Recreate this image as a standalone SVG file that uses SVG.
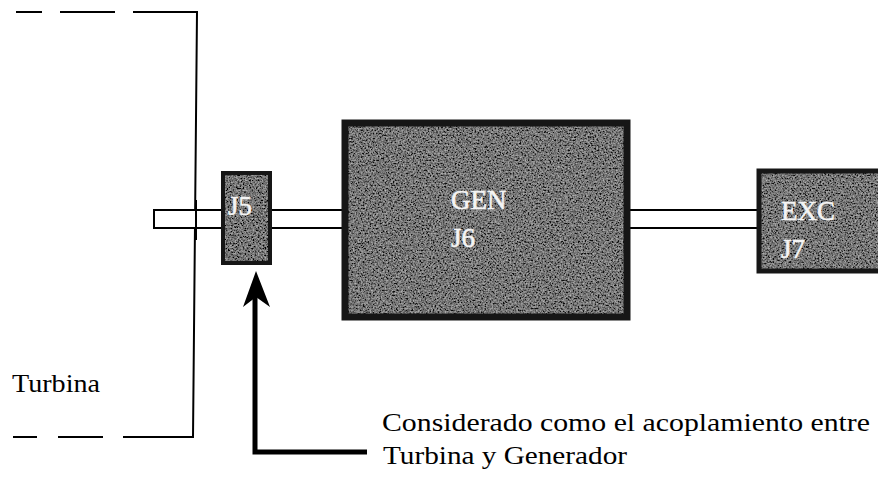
<svg xmlns="http://www.w3.org/2000/svg" width="878" height="478" viewBox="0 0 878 478">
<style>
.ln{stroke:#000;stroke-width:2;fill:none}
.shaft{fill:#fff;stroke:#000;stroke-width:2}
.fillbox{fill:#1a1a1a}
.edge{fill:none;stroke:#161616;stroke-width:7}
.lbl{font-family:"Liberation Serif","Times New Roman",serif;font-size:27px;fill:#f4f4f4;stroke:#f4f4f4;stroke-width:0.6}
.txt{font-family:"Liberation Serif","Times New Roman",serif;font-size:26px;fill:#000}
</style>
<defs>
<filter id="noise" x="0" y="0" width="1" height="1">
<feTurbulence type="fractalNoise" baseFrequency="0.6" numOctaves="3" seed="7" result="t"/>
<feColorMatrix in="t" type="matrix" values="1.6 0 0 0 -0.45  1.6 0 0 0 -0.45  1.6 0 0 0 -0.45  0 0 0 0 0.5" result="g"/>
<feComposite in="g" in2="SourceGraphic" operator="in" result="gi"/>
<feMerge><feMergeNode in="SourceGraphic"/><feMergeNode in="gi"/></feMerge>
</filter>
</defs>
<g id="turbine">
<path class="ln" d="M16 12H42M60 12H115M133 12H197L193 437H123M103 437H58M37 437H13"/>
<text class="txt" x="12" y="392" textLength="88" lengthAdjust="spacingAndGlyphs">Turbina</text>
</g>
<g id="connectors">
<rect class="shaft" x="154" y="210" width="606" height="18"/>
<path class="ln" d="M196 200V240"/>
<path d="M367 452H255V290" stroke="#000" stroke-width="5" fill="none"/>
<polygon points="256,271 243,307 256,297 270,307" fill="#000"/>
</g>
<g id="j5">
<rect class="fillbox" x="223" y="173" width="47" height="90" filter="url(#noise)" style="fill:#0a0a0a"/>
<rect class="edge" x="223" y="173" width="47" height="90" style="stroke-width:4"/>
<text class="lbl" x="228" y="215">J5</text>
</g>
<g id="gen">
<rect class="fillbox" x="345" y="123" width="282" height="194" filter="url(#noise)"/>
<rect class="edge" x="345" y="123" width="282" height="194"/>
<text class="lbl" x="451" y="209">GEN</text>
<text class="lbl" x="451" y="247">J6</text>
</g>
<g id="exc">
<rect class="fillbox" x="759" y="171" width="125" height="100" filter="url(#noise)"/>
<rect class="edge" x="759" y="171" width="125" height="100" style="stroke-width:5"/>
<text class="lbl" x="781" y="220">EXC</text>
<text class="lbl" x="781" y="258">J7</text>
</g>
<g id="note">
<text class="txt" x="382" y="431" textLength="488" lengthAdjust="spacingAndGlyphs">Considerado como el acoplamiento entre</text>
<text class="txt" x="383" y="464" textLength="244" lengthAdjust="spacingAndGlyphs">Turbina y Generador</text>
</g>
</svg>
